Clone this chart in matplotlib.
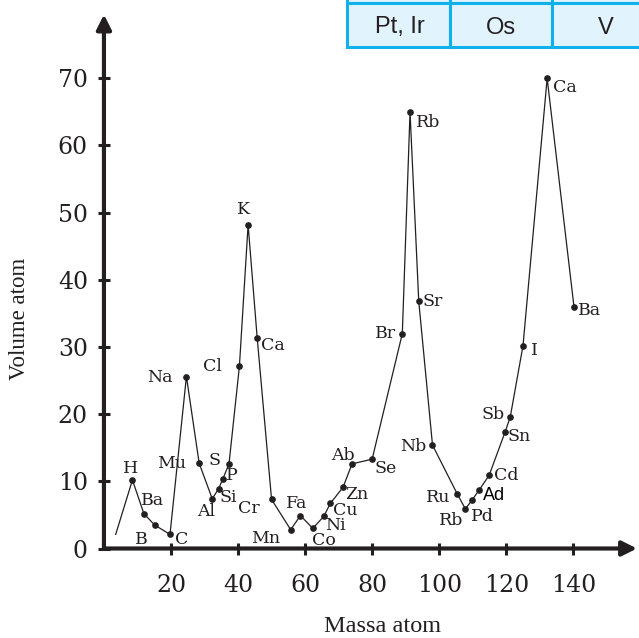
import matplotlib
matplotlib.use("Agg")
import matplotlib.pyplot as plt
from matplotlib.patches import Rectangle

# ---- data ----
mass = [3.5, 8.5, 11.9, 15.1, 19.7, 24.6, 28.4, 32.3, 34.2, 35.5, 37.3, 40.4,
        43.0, 45.7, 50.0, 55.7, 58.6, 62.3, 65.6, 67.5, 71.3, 74.0, 80.0,
        89.0, 91.3, 93.9, 98.0, 105.4, 107.8, 109.8, 111.9, 114.9, 119.7,
        121.2, 125.0, 132.2, 140.2]
volume = [2.1, 10.2, 5.2, 3.5, 2.1, 25.6, 12.7, 7.4, 8.9, 10.4, 12.6, 27.1,
          48.2, 31.4, 7.3, 2.8, 4.9, 3.0, 4.8, 6.7, 9.1, 12.6, 13.3,
          32.0, 65.0, 36.8, 15.4, 8.1, 5.9, 7.2, 8.7, 10.9, 17.4,
          19.6, 30.2, 70.0, 36.0]
labels = ["", "H", "Ba", "B", "C", "Na", "Mu", "Al", "Si", "P", "S", "Cl",
          "K", "Ca", "Cr", "Mn", "Fa", "Co", "Ni", "Cu", "Zn", "Ab", "Se",
          "Br", "Rb", "Sr", "Nb", "Ru", "Rb", "Pd", "Ad", "Cd", "Sn",
          "Sb", "I", "Ca", "Ba"]
# label offsets in pixels (dx right, dy down)
label_off = [(0, 0), (-2, -11), (9, -13), (-13, 15), (12, 5), (-26, 1), (-28, 0),
             (-6, 13), (10, 9), (9, -3), (-14, -3), (-27, 0),
             (-5, -15), (16, 8), (-23, 9), (-25, 9), (-4, -12), (11, 12),
             (12, 9), (15, 7), (14, 7), (-9, -8), (13, 9),
             (-17, 0), (18, 11), (14, 0), (-19, 1), (-19, 3), (-14, 12),
             (10, 16), (15, 5), (17, 0), (14, 5), (-17, -2), (11, 5),
             (18, 9), (16, 4)]
xticks = [20, 40, 60, 80, 100, 120, 140]
yticks = [0, 10, 20, 30, 40, 50, 60, 70]
table_cells = ["Pt, Ir", "Os", "V"]
xlabel = "Massa atom"
ylabel = "Volume atom"

INK = "#231f20"
W, H = 639, 638
fig = plt.figure(figsize=(W / 100, H / 100), dpi=100)

x0_px, y0_px = 103.95, 548.5
sx, sy = 3.3525, 6.717
xmax, ymax = 159.0, 79.5
ax = fig.add_axes([x0_px / W, (H - y0_px) / H, xmax * sx / W, ymax * sy / H])
ax.set_xlim(0, xmax)
ax.set_ylim(0, ymax)
for s in ax.spines.values():
    s.set_visible(False)
ax.patch.set_alpha(0)

# axes with arrows
for tip in [(xmax, 0), (0, ymax)]:
    ax.annotate("", xy=tip, xytext=(0, 0),
                arrowprops=dict(arrowstyle="-|>,head_length=0.4,head_width=0.2",
                                lw=3.0, color=INK, shrinkA=0, shrinkB=0,
                                mutation_scale=22), annotation_clip=False)

ax.set_xticks(xticks)
ax.set_xticklabels([str(v) for v in xticks])
ax.set_yticks(yticks)
ax.set_yticklabels([str(v) for v in yticks])
ax.tick_params(axis="both", direction="inout", length=8, width=2.2, color=INK,
               labelcolor=INK, labelsize=17)
ax.tick_params(axis="x", pad=14)
ax.tick_params(axis="y", pad=7.5)
for t in ax.get_xticklabels() + ax.get_yticklabels():
    t.set_family("DejaVu Serif")

# data line
ax.plot(mass, volume, color=INK, lw=0.9, marker="o", markersize=3.8,
        markevery=list(range(1, len(mass))), clip_on=False, zorder=3)

for xv, yv, lab, (dx, dy) in zip(mass, volume, labels, label_off):
    if not lab:
        continue
    if lab == "Ad":
        ax.annotate(lab, (xv, yv), xytext=(dx, -dy), textcoords="offset pixels",
                    ha="center", va="center", fontsize=13, color="black",
                    family="Liberation Sans")
    else:
        ax.annotate(lab, (xv, yv), xytext=(dx, -dy), textcoords="offset pixels",
                    ha="center", va="center", fontsize=12.5, color=INK,
                    family="DejaVu Serif")

# axis titles
fig.text(383 / W, 1 - 626 / H, xlabel, ha="center", va="center",
         fontsize=17.5, family="Liberation Serif", color=INK)
fig.text(20 / W, 1 - 319 / H, ylabel, ha="center", va="center", rotation=90,
         fontsize=16.5, family="Liberation Serif", color=INK)

# table at top right
def px_rect(x1, y1, x2, y2, **kw):
    r = Rectangle((x1 / W, 1 - y2 / H), (x2 - x1) / W, (y2 - y1) / H,
                  transform=fig.transFigure, **kw)
    fig.add_artist(r)

edges = [346.7, 450, 552, 655]
fill = "#e1f3fc"
border = "#10b0ea"
for i in range(3):
    px_rect(edges[i], -30, edges[i + 1], 3.3, facecolor=fill, edgecolor=border,
            lw=2.2, clip_on=False)
    px_rect(edges[i], 3.3, edges[i + 1], 46.7, facecolor=fill, edgecolor=border,
            lw=2.2, clip_on=False)
centers = [400, 501, 605.7]
for c, txt in zip(centers, table_cells):
    fig.text(c / W, 1 - 27.5 / H, txt, ha="center", va="center", fontsize=17,
             family="Liberation Sans", color=INK)

fig.savefig("out.png", dpi=100)
